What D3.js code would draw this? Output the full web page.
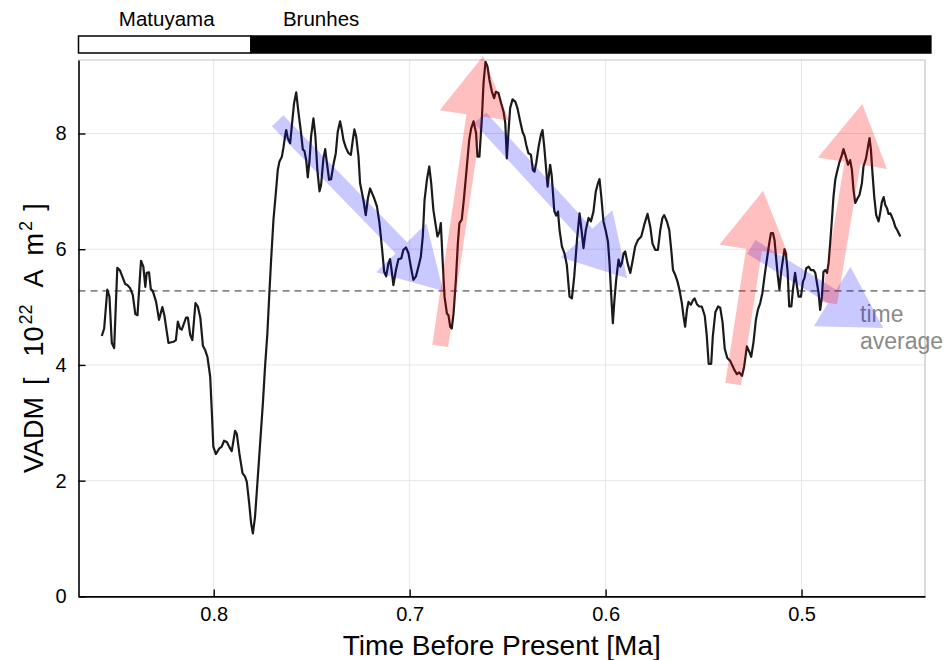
<!DOCTYPE html>
<html>
<head>
<meta charset="utf-8">
<script src="https://cdn.jsdelivr.net/npm/d3@7"></script>
<style>
  html, body { margin: 0; padding: 0; background: #ffffff; }
  svg { display: block; font-family: "Liberation Sans", Arial, Helvetica, sans-serif; }
</style>
</head>
<body>
<svg id="chart" width="945" height="660"></svg>
<script>
// Virtual axial dipole moment record, age in ka
const ageKa = [
  857.1,855.9,854.3,853.2,852.0,850.8,849.2,847.8,845.2,844.1,
  842.7,841.3,840.0,838.9,837.1,835.9,834.9,834.2,833.0,832.1,
  831.1,829.4,827.9,826.2,825.2,823.1,820.6,819.3,818.3,817.2,
  816.3,814.1,813.2,812.0,810.9,809.3,808.1,806.8,805.5,804.4,
  803.2,801.8,801.0,800.2,798.9,797.1,795.9,794.7,793.3,792.0,
  790.8,789.1,788.2,786.9,785.3,784.0,783.1,781.9,780.9,780.0,
  778.9,777.7,776.3,774.9,773.8,772.6,771.6,770.7,769.5,768.3,
  767.3,766.5,765.2,764.4,763.6,763.0,762.2,761.0,760.0,759.0,
  757.9,756.8,755.5,754.5,753.7,752.8,752.0,751.1,750.3,749.1,
  748.1,747.1,746.0,745.2,744.0,743.1,742.3,741.1,740.1,738.9,
  737.7,736.7,735.5,734.6,733.8,732.6,731.2,730.0,729.0,728.2,
  727.3,726.1,725.3,723.6,722.4,721.3,720.2,719.1,718.1,716.7,
  715.4,714.2,713.0,712.0,710.8,710.0,709.1,708.3,707.0,705.7,
  704.3,703.2,701.9,700.6,699.4,698.1,696.8,695.5,694.3,693.3,
  692.4,691.2,690.0,689.0,687.9,686.6,685.8,684.8,684.1,683.1,
  682.2,681.0,680.2,679.3,678.5,677.6,676.4,675.4,674.6,673.4,
  672.2,670.8,669.6,668.6,667.4,666.1,665.4,664.4,663.1,662.3,
  661.3,660.3,659.3,658.0,656.9,656.0,654.7,653.3,652.1,651.2,
  650.4,649.6,648.7,647.5,646.1,645.0,643.6,642.4,641.4,640.5,
  639.4,638.1,637.1,636.3,635.4,634.2,633.0,632.2,631.3,
  629.6,628.3,627.5,626.2,
  625.2,624.3,623.5,622.3,621.0,619.8,
  618.4,617.2,616.0,614.6,613.3,612.1,611.3,610.1,608.7,607.5,
  606.2,605.0,603.9,603.1,602.2,601.1,599.8,598.8,598.0,597.1,
  596.3,595.5,594.6,593.4,592.5,591.7,590.8,590.0,588.8,587.4,
  586.1,584.9,583.5,581.8,580.3,578.6,577.2,576.1,574.7,573.3,
  572.1,571.0,570.1,568.7,567.5,566.5,565.6,564.5,563.3,562.3,
  561.1,560.2,559.4,558.5,557.7,556.5,555.4,554.6,553.4,552.2,
  550.9,549.4,548.4,547.4,546.1,545.3,544.0,542.6,541.5,540.3,
  539.2,537.9,536.4,535.2,534.2,533.0,531.8,530.4,529.3,527.9,
  526.7,525.7,524.5,523.3,522.3,521.1,520.0,518.9,517.7,516.5,
  515.6,514.6,513.8,512.9,512.1,511.3,510.4,509.5,508.7,508.0,
  507.1,506.3,505.2,504.4,503.3,502.3,501.5,500.3,499.3,498.5,
  497.6,496.4,495.2,493.9,493.0,492.1,491.3,490.5,489.6,488.8,
  487.9,487.0,486.2,485.4,484.5,483.7,482.8,481.9,480.6,479.4,
  478.6,477.4,476.3,475.2,474.3,473.5,472.6,471.4,470.4,469.2,
  468.4,467.1,465.8,465.3,464.6,463.8,462.9,461.9,460.7,459.9,
  459.0,458.1,457.3,456.4,455.6,454.7,453.9,453.0,452.2,451.0,449.6
];

// VADM in units of 10^22 A m^2
const vadm = [
  4.50,4.63,5.30,5.18,4.38,4.29,5.68,5.63,5.40,5.38,
  5.33,5.21,4.88,4.86,5.80,5.70,5.35,5.59,5.60,5.31,
  5.28,5.09,4.78,5.00,4.86,4.38,4.40,4.43,4.75,4.63,
  4.61,4.82,4.82,4.52,4.43,5.07,5.01,4.81,4.33,4.26,
  4.14,3.80,3.22,2.59,2.46,2.56,2.59,2.69,2.67,2.58,
  2.51,2.86,2.81,2.47,2.13,2.07,1.98,1.61,1.26,1.09,
  1.38,1.96,2.65,3.34,3.97,4.55,5.24,5.82,6.51,6.97,
  7.37,7.51,7.60,7.76,7.95,8.06,7.92,7.83,8.18,8.52,
  8.71,8.38,8.03,7.72,7.70,7.54,7.24,7.54,7.95,8.26,
  7.95,7.37,7.00,7.11,7.57,7.73,7.51,7.20,7.21,7.46,
  7.66,8.03,8.21,8.06,7.89,7.76,7.66,7.63,7.89,8.07,
  7.95,7.60,7.14,6.85,6.59,6.88,7.05,6.96,6.88,6.74,
  6.45,6.05,5.61,5.53,5.76,5.83,5.61,5.38,5.64,5.83,
  5.84,5.99,6.03,5.93,5.70,5.47,5.53,5.70,5.87,6.22,
  6.85,7.20,7.43,7.14,6.68,6.39,6.22,6.30,6.45,5.76,
  5.18,4.89,4.86,4.66,4.63,4.89,5.47,6.10,6.45,6.51,
  6.91,7.43,7.89,8.09,8.21,8.01,7.60,7.60,8.29,8.87,
  9.24,9.16,8.93,8.72,8.61,8.72,8.70,8.52,8.38,8.18,
  7.57,8.01,8.44,8.59,8.55,8.44,8.21,8.03,7.95,7.80,
  7.66,7.63,7.37,7.34,7.49,7.77,7.98,8.06,7.77,
  7.08,7.46,7.27,6.66,
  6.58,6.65,6.33,6.05,5.93,5.73,
  5.18,5.15,5.53,6.16,6.62,6.28,6.02,6.33,6.54,6.48,
  6.65,7.00,7.14,7.21,6.91,6.48,6.30,6.13,5.76,5.18,
  4.72,5.12,5.47,5.82,5.70,5.76,5.93,5.96,5.76,5.59,
  5.82,6.05,6.16,6.22,6.42,6.61,6.39,6.10,5.99,5.99,
  6.33,6.54,6.59,6.48,6.33,5.99,5.64,5.56,5.44,5.30,
  5.07,4.83,4.66,4.95,5.09,5.04,5.12,5.15,5.05,5.01,
  5.01,4.85,4.52,4.02,4.02,4.49,4.91,5.01,4.99,4.73,
  4.28,4.12,4.07,3.98,3.91,3.84,3.87,3.81,3.97,4.32,
  4.23,4.14,4.40,4.78,4.95,5.07,5.24,5.53,5.82,6.10,
  6.28,6.28,6.16,5.82,5.53,5.30,5.61,5.82,6.00,5.93,
  5.61,5.01,5.01,5.30,5.59,5.35,5.18,5.18,5.44,5.50,
  5.67,5.70,5.64,5.64,5.59,5.41,5.24,4.95,5.18,5.61,
  5.64,5.59,5.76,6.10,6.51,6.91,7.20,7.34,7.51,7.63,
  7.73,7.60,7.46,7.54,7.37,7.03,6.80,6.88,6.94,7.14,
  7.43,7.57,7.83,7.92,7.72,7.31,6.91,6.59,6.48,6.62,
  6.82,6.90,6.77,6.71,6.61,6.62,6.56,6.48,6.39,6.32,6.22
];

const timeAverage = 5.28;

// Axis ticks
const xTicks = [0.8, 0.7, 0.6, 0.5];
const yTicks = [0, 2, 4, 6, 8];
const xDomain = [0.869, 0.437];
const yDomain = [0, 9.27];

// Polarity chrons (Ma)
const chronNames = ["Matuyama", "Brunhes"];
const chronStart = [0.869, 0.781];
const chronEnd = [0.781, 0.434];
const chronFill = ["#ffffff", "#000000"];

// Trend arrows: tail and tip in (age Ma, VADM)
const arrowKind = ["fall", "fall", "fall", "rise", "rise", "rise"];
const arrowTailAge = [0.7674, 0.6640, 0.5257, 0.6844, 0.5349, 0.4859];
const arrowTailV = [8.22, 8.27, 6.04, 4.33, 3.67, 5.07];
const arrowTipAge = [0.6829, 0.5890, 0.4583, 0.6625, 0.5196, 0.4690];
const arrowTipV = [5.28, 5.50, 4.64, 9.34, 7.01, 8.51];

const W = 945, H = 660;
const plot = { left: 78.5, right: 925, top: 60, bottom: 596.4 };

const svg = d3.select("#chart");
svg.append("rect").attr("width", W).attr("height", H).attr("fill", "#ffffff");

const x = d3.scaleLinear().domain(xDomain).range([plot.left, plot.right]);
const y = d3.scaleLinear().domain(yDomain).range([plot.bottom, plot.top]);

// Grid
const grid = svg.append("g").attr("stroke", "#e6e6e6").attr("stroke-width", 1);
grid.selectAll("line.gx").data(xTicks).join("line")
  .attr("x1", d => x(d)).attr("x2", d => x(d))
  .attr("y1", plot.top).attr("y2", plot.bottom);
grid.selectAll("line.gy").data(yTicks.filter(d => d > 0)).join("line")
  .attr("x1", plot.left).attr("x2", plot.right)
  .attr("y1", d => y(d)).attr("y2", d => y(d));

// Frame (top and right)
svg.append("path")
  .attr("d", `M${plot.left},${plot.top}H${plot.right}V${plot.bottom}`)
  .attr("fill", "none").attr("stroke", "#c4c4c4").attr("stroke-width", 1.2);

// Time-average reference
svg.append("line")
  .attr("x1", plot.left).attr("x2", plot.right)
  .attr("y1", y(timeAverage)).attr("y2", y(timeAverage))
  .attr("stroke", "#888888").attr("stroke-width", 1.8)
  .attr("stroke-dasharray", "7,5");

// VADM curve
const series = ageKa.map((a, i) => ({ t: a / 1000, v: vadm[i] }));
svg.append("path")
  .datum(series)
  .attr("fill", "none")
  .attr("stroke", "#1a1a1a")
  .attr("stroke-width", 2.2)
  .attr("stroke-linejoin", "round")
  .attr("d", d3.line().x(d => x(d.t)).y(d => y(d.v)));

// Annotation text
const ann = svg.append("text")
  .attr("fill", "#8a8a8a")
  .attr("font-size", 23);
ann.append("tspan").attr("x", 860).attr("y", 322).text("time");
ann.append("tspan").attr("x", 860).attr("y", 349).text("average");

// Arrows
function arrowPath(x0, y0, x1, y1) {
  const shaftW = 16, headW = 70, headL = 60;
  const dx = x1 - x0, dy = y1 - y0;
  const len = Math.hypot(dx, dy);
  const ux = dx / len, uy = dy / len;
  const nx = -uy, ny = ux;
  const bx = x1 - ux * headL, by = y1 - uy * headL;
  const p = [
    [x0 + nx * shaftW / 2, y0 + ny * shaftW / 2],
    [bx + nx * shaftW / 2, by + ny * shaftW / 2],
    [bx + nx * headW / 2, by + ny * headW / 2],
    [x1, y1],
    [bx - nx * headW / 2, by - ny * headW / 2],
    [bx - nx * shaftW / 2, by - ny * shaftW / 2],
    [x0 - nx * shaftW / 2, y0 - ny * shaftW / 2]
  ];
  return "M" + p.map(q => q.join(",")).join("L") + "Z";
}
const arrows = arrowKind.map((k, i) => ({
  kind: k,
  x0: x(arrowTailAge[i]), y0: y(arrowTailV[i]),
  x1: x(arrowTipAge[i]), y1: y(arrowTipV[i])
}));
svg.append("g").selectAll("path").data(arrows).join("path")
  .attr("d", d => arrowPath(d.x0, d.y0, d.x1, d.y1))
  .attr("fill", d => d.kind === "rise" ? "rgba(255,0,0,0.25)" : "rgba(0,0,255,0.21)")
  .attr("stroke", "none");

// Axes
const yAxis = d3.axisLeft(y).tickValues(yTicks).tickFormat(d3.format("d"))
  .tickSizeInner(-7).tickSizeOuter(0).tickPadding(12);
const xAxis = d3.axisBottom(x).tickValues(xTicks).tickFormat(d3.format(".1f"))
  .tickSizeInner(-7).tickSizeOuter(0).tickPadding(10);

const gy = svg.append("g").attr("transform", `translate(${plot.left},0)`).call(yAxis);
const gx = svg.append("g").attr("transform", `translate(0,${plot.bottom})`).call(xAxis);
[gx, gy].forEach(g => {
  g.select(".domain").attr("stroke", "#000").attr("stroke-width", 1.6);
  g.selectAll(".tick line").attr("stroke", "#000").attr("stroke-width", 1.4);
  g.selectAll(".tick text").attr("fill", "#000")
    .attr("font-size", 20).attr("font-family", "'Liberation Sans', Arial, sans-serif");
});

// Axis titles
svg.append("text")
  .attr("x", (plot.left + plot.right) / 2).attr("y", 655)
  .attr("text-anchor", "middle").attr("font-size", 28).attr("fill", "#000")
  .text("Time Before Present [Ma]");

const yt = svg.append("text")
  .attr("transform", "translate(43,473) rotate(-90)")
  .attr("font-size", 27).attr("fill", "#000");
yt.append("tspan").text("VADM");
yt.append("tspan").attr("dx", 12).text("[");
yt.append("tspan").attr("dx", 21).text("10");
yt.append("tspan").attr("dx", 2).attr("dy", -11).attr("font-size", 18).text("22");
yt.append("tspan").attr("dx", 17).attr("dy", 11).text("A");
yt.append("tspan").attr("dx", 14).text("m");
yt.append("tspan").attr("dx", 2).attr("dy", -11).attr("font-size", 18).text("2");
yt.append("tspan").attr("dx", 10).attr("dy", 11).text("]");

// Polarity bar
const barTop = 36, barH = 17;
const chrons = chronNames.map((n, i) => ({ name: n, s: chronStart[i], e: chronEnd[i], fill: chronFill[i] }));
svg.append("g").selectAll("rect").data(chrons).join("rect")
  .attr("x", d => x(d.s)).attr("width", d => x(d.e) - x(d.s))
  .attr("y", barTop).attr("height", barH)
  .attr("fill", d => d.fill).attr("stroke", "#000").attr("stroke-width", 1.5);

svg.append("text").attr("x", (x(chrons[0].s) + x(chrons[0].e)) / 2 + 2).attr("y", 26)
  .attr("text-anchor", "middle").attr("font-size", 20.5).attr("fill", "#000")
  .text(chrons[0].name);
svg.append("text").attr("x", x(chrons[1].s) + 32).attr("y", 26)
  .attr("text-anchor", "start").attr("font-size", 20.5).attr("fill", "#000")
  .text(chrons[1].name);
</script>
</body>
</html>
